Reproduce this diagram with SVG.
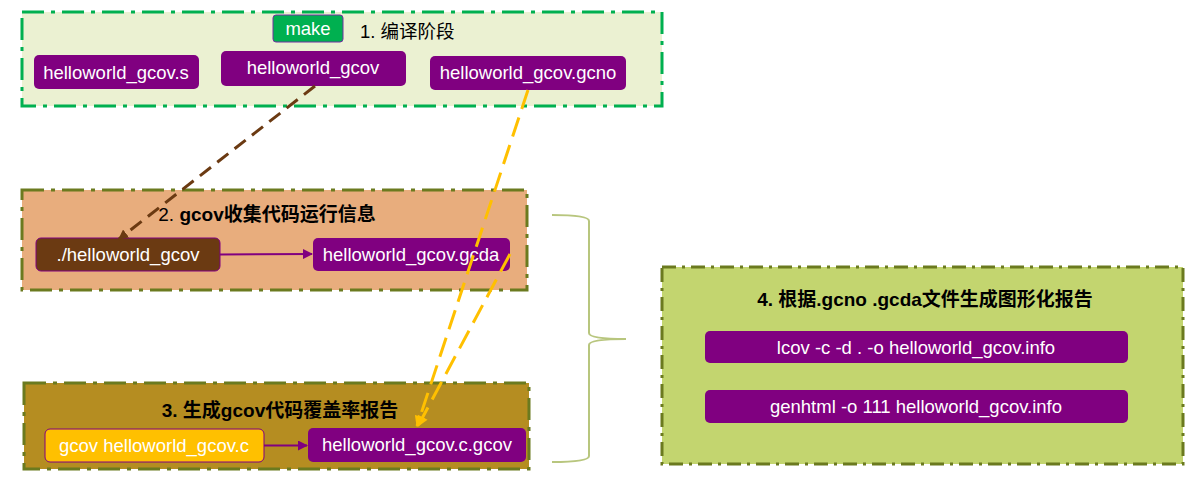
<svg xmlns="http://www.w3.org/2000/svg" width="1195" height="497" viewBox="0 0 1195 497">
<defs>
<style>
.t{font-family:"Liberation Sans","Noto Sans CJK SC",sans-serif;font-size:18.5px;}
.w{fill:#fff;text-anchor:middle;}
.b{font-weight:bold;}
.h{font-size:19px;}
.node{fill:#800080;}
.grp{stroke-width:3;stroke-dasharray:22 7 4 7;}
.olive{stroke:#6B7A1F;}
</style>
<marker id="ap" viewBox="0 0 10 10" refX="9" refY="5" markerWidth="10" markerHeight="10" markerUnits="userSpaceOnUse" orient="auto"><path d="M0,0 L10,5 L0,10 z" fill="#800080"/></marker>
<marker id="ab" viewBox="0 0 10 10" refX="9" refY="5" markerWidth="10" markerHeight="10" markerUnits="userSpaceOnUse" orient="auto"><path d="M0,0 L10,5 L0,10 z" fill="#6B3A12"/></marker>
<marker id="ag" viewBox="0 0 10 10" refX="9" refY="5" markerWidth="12" markerHeight="11" markerUnits="userSpaceOnUse" orient="auto"><path d="M0,0 L10,5 L0,10 z" fill="#FFC000"/></marker>
</defs>
<rect width="1195" height="497" fill="#fff"/>

<g id="stage1">
<rect class="grp" x="22" y="12" width="640" height="94" fill="#EBF1D2" stroke="#00B050"/>
<text class="t" x="360" y="38" fill="#000">1. 编译阶段</text>
</g>
<g id="make">
<rect x="273" y="15" width="70" height="27" rx="3" fill="#00B050" stroke="#7030A0" stroke-width="1"/>
<text class="t w" x="308" y="35">make</text>
</g>
<g id="gcov_s">
<rect class="node" x="34" y="55" width="165" height="34" rx="5"/>
<text class="t w" x="116" y="79">helloworld_gcov.s</text>
</g>
<g id="gcov_bin">
<rect class="node" x="221" y="51" width="185" height="35" rx="5"/>
<text class="t w" x="313" y="74">helloworld_gcov</text>
</g>
<g id="gcno">
<rect class="node" x="430" y="56" width="196" height="34" rx="5"/>
<text class="t w" x="528" y="79">helloworld_gcov.gcno</text>
</g>

<g id="stage2">
<rect class="grp olive" x="22" y="190" width="505" height="100" fill="#E8AD7D"/>
<text class="t h" x="267" y="221" text-anchor="middle" fill="#000">2. <tspan class="b">gcov收集代码运行信息</tspan></text>
</g>
<g id="run">
<rect x="36" y="238" width="184" height="33" rx="5" fill="#6B3A12" stroke="#800080" stroke-width="1"/>
<text class="t w" x="128" y="261">./helloworld_gcov</text>
</g>
<g id="gcda">
<rect class="node" x="313" y="238" width="197" height="33" rx="5"/>
<text class="t w" x="411" y="261">helloworld_gcov.gcda</text>
</g>

<g id="stage3">
<rect class="grp olive" x="24" y="383" width="505" height="86" fill="#B58D21"/>
<text class="t b h" x="280" y="417" text-anchor="middle" fill="#000">3. 生成gcov代码覆盖率报告</text>
</g>
<g id="gcovcmd">
<rect x="45" y="429" width="219" height="33" rx="5" fill="#FFC000" stroke="#800080" stroke-width="1"/>
<text class="t w" x="154" y="452">gcov helloworld_gcov.c</text>
</g>
<g id="cgcov">
<rect class="node" x="308" y="428" width="218" height="34" rx="5"/>
<text class="t w" x="417" y="451">helloworld_gcov.c.gcov</text>
</g>

<g id="stage4">
<rect class="olive" x="662" y="267" width="521" height="197" fill="#C3D56F" stroke-width="3" stroke-dasharray="14 6 3 6"/>
<text class="t b h" x="925" y="306" text-anchor="middle" fill="#000">4. 根据.gcno .gcda文件生成图形化报告</text>
</g>
<g id="lcov">
<rect class="node" x="705" y="331" width="423" height="32" rx="5"/>
<text class="t w" x="916" y="354">lcov -c -d . -o helloworld_gcov.info</text>
</g>
<g id="genhtml">
<rect class="node" x="705" y="390" width="423" height="33" rx="5"/>
<text class="t w" x="916" y="413">genhtml -o 111 helloworld_gcov.info</text>
</g>

<g id="connectors" fill="none">
<path d="M220,254.5 L312,254" stroke="#800080" stroke-width="2" marker-end="url(#ap)"/>
<path d="M264,445.5 L307,445.5" stroke="#800080" stroke-width="2" marker-end="url(#ap)"/>
<path d="M315,86 L119,239" stroke="#6B3A12" stroke-width="3" stroke-dasharray="14 8" marker-end="url(#ab)"/>
<path d="M528,90 L417,426" stroke="#FFC000" stroke-width="3" stroke-dasharray="20 9" marker-end="url(#ag)"/>
<path d="M510,254 L418,426" stroke="#FFC000" stroke-width="3" stroke-dasharray="20 9" marker-end="url(#ag)"/>
<path d="M552,215 Q589,215 589,221 L589,333 Q589,339 626,339 Q589,339 589,345 L589,456 Q589,462 552,462" stroke="#B8C67E" stroke-width="2"/>
</g>
</svg>
